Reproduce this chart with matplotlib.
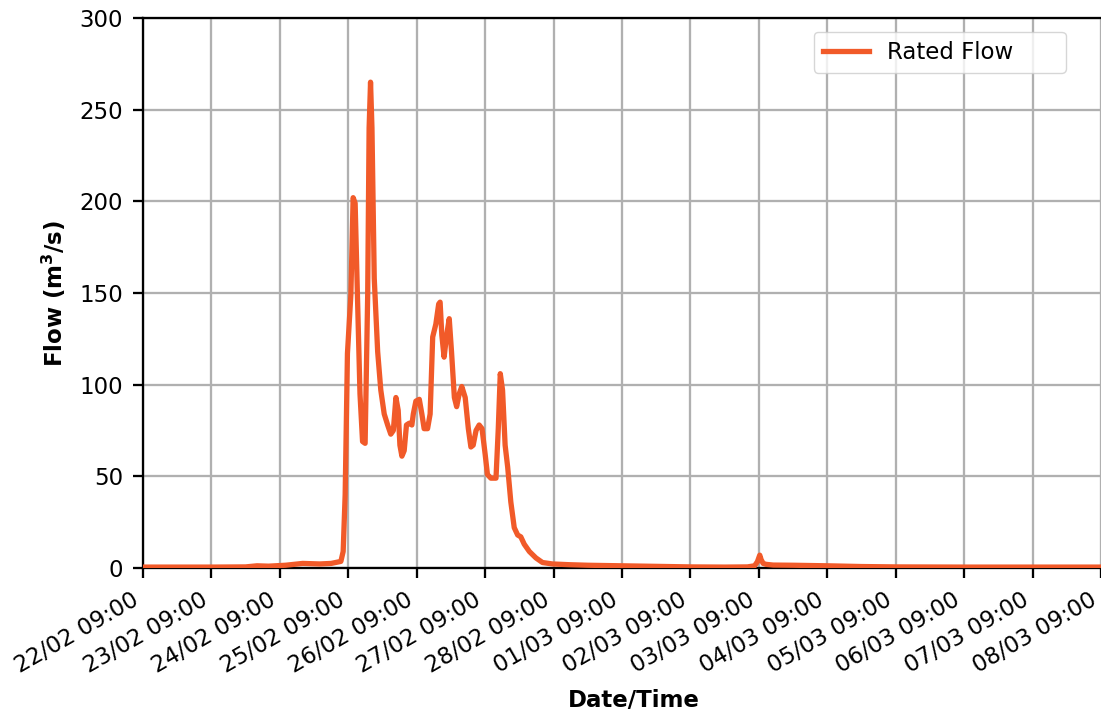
import matplotlib
matplotlib.use("Agg")
import matplotlib.pyplot as plt
import matplotlib.dates as mdates
import pandas as pd

# ---- data (hours since 22/02 09:00, flow in m3/s) ----
start_time = "2021-02-22 09:00"
hours = [0, 24, 36, 40, 44, 50, 56, 62, 66, 69.4, 70.2, 70.9, 71.7, 72.9, 73.7,
         74.4, 75.2, 76.1, 77.0, 77.9, 78.8, 79.3, 79.8, 80.3, 81.1, 82.3, 83.4,
         84.6, 85.8, 86.9, 87.8, 88.7, 89.5, 90.1, 90.8, 91.6, 92.4, 93.4, 94.3,
         94.8, 95.7, 96.9, 97.8, 98.6, 99.8, 100.7, 101.6, 102.7, 103.7, 104.2,
         104.8, 105.6, 106.5, 107.4, 108.2, 109.2, 110.0, 110.9, 111.8, 113.0,
         114.1, 115.0, 115.8, 116.8, 117.9, 118.9, 120.0, 120.8, 122.0, 123.8,
         124.6, 125.3, 126.1, 127.0, 127.9, 129.0, 130.2, 131.4, 132.5, 133.7,
         135.5, 137.8, 140.1, 143.6, 149.5, 156, 168, 180, 192, 204, 212, 214.5,
         215.5, 216.3, 216.8, 217.5, 218.5, 221, 228, 240, 252, 264, 288, 344.4]
flow = [0.5, 0.5, 0.6, 1.2, 1.0, 1.5, 2.5, 2.2, 2.5, 3.6, 9, 40, 117, 149, 202,
        199, 149, 95, 69, 68, 149, 240, 265, 240, 158, 118, 97,
        84, 78, 73, 75, 93, 86, 67, 61, 64, 78, 79, 78,
        84, 91, 92, 84, 76, 76, 84, 126, 133, 144, 145,
        127, 115, 127, 136, 118, 93, 88, 95, 99, 93,
        76, 66, 67, 75, 78, 76, 62, 51, 49, 49,
        76, 106, 97, 67, 55, 36, 22, 18, 17, 13,
        9, 5.5, 3, 2.2, 1.8, 1.5, 1.2, 0.9, 0.6, 0.5, 0.6, 1.2,
        3.5, 7, 4.5, 2.5, 2.0, 1.6, 1.5, 1.2, 0.8, 0.6, 0.5, 0.5]

series_label = "Rated Flow      "
x_label = "Date/Time"
y_label = "Flow (m$^\\mathbf{3}$/s)"

# ---- style (scaled from the reference) ----
S = 2.06
plt.rcParams.update({
    "font.family": "DejaVu Sans",
    "font.size": 8 * S,
    "axes.linewidth": 0.8 * S,
    "grid.linewidth": 0.8 * S,
    "grid.color": "#b0b0b0",
    "xtick.major.size": 3.5 * S,
    "ytick.major.size": 3.5 * S,
    "xtick.major.width": 0.8 * S,
    "ytick.major.width": 0.8 * S,
    "xtick.major.pad": 3.5 * S,
    "ytick.major.pad": 3.5 * S,
    "axes.labelpad": 4 * S,
})

t0 = pd.Timestamp(start_time)
times = [t0 + pd.Timedelta(hours=h) for h in hours]

fig = plt.figure(figsize=(11.01, 7.12), dpi=100)
ax = fig.add_axes([143 / 1101, 1 - 568 / 712, (1125 - 143) / 1101, 550 / 712])

ax.plot(times, flow, color="#F15A29", lw=3.8, label=series_label, zorder=3)

ax.set_xlim(t0, t0 + pd.Timedelta(hours=344.4))
ax.set_ylim(0, 300)
ax.set_yticks([0, 50, 100, 150, 200, 250, 300])
ax.xaxis.set_major_locator(mdates.HourLocator(byhour=9))
ax.xaxis.set_major_formatter(mdates.DateFormatter("%d/%m %H:%M"))
for lbl in ax.get_xticklabels():
    lbl.set_rotation(30)
    lbl.set_ha("right")
ax.grid(True)
ax.set_axisbelow(True)

ax.set_xlabel(x_label, fontweight="bold")
ax.set_ylabel(y_label, fontweight="bold")

ax.legend(loc="upper right", bbox_to_anchor=(1066 / 1101, 1 - 31.5 / 712),
          bbox_transform=fig.transFigure, borderaxespad=0)

fig.savefig("out.png", dpi=100)
